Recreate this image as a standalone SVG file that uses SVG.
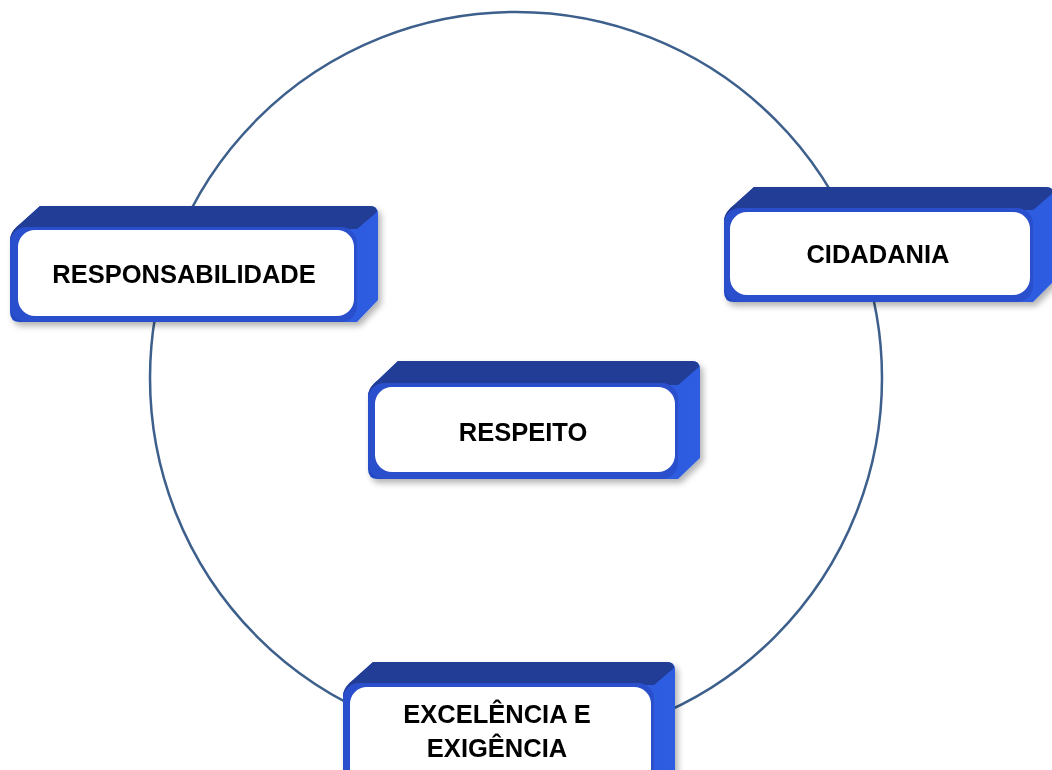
<svg xmlns="http://www.w3.org/2000/svg" width="1052" height="770" viewBox="0 0 1052 770">
<defs>
<linearGradient id="side" x1="0" y1="0" x2="1" y2="0">
<stop offset="0" stop-color="#2347C2"/><stop offset="1" stop-color="#2F5DE2"/>
</linearGradient>
<filter id="sh" x="-5%" y="-5%" width="115%" height="125%">
<feDropShadow dx="3" dy="4" stdDeviation="3" flood-color="#000" flood-opacity="0.3"/>
</filter>
<style>
.ring{fill:none;stroke:#3D5F8C;stroke-width:2.5}
.side{fill:url(#side)}
.top{fill:#223C96}
.front{fill:#2C4FCC}
.face{fill:#FFFFFF}
.lbl{font-family:"Liberation Sans",Arial,sans-serif;font-weight:bold;font-size:25.5px;fill:#000;text-anchor:middle}
</style>
</defs>
<rect width="1052" height="770" fill="#FFFFFF"/>
<g id="connectors">
<circle class="ring" cx="516" cy="378" r="366"/>
</g>
<g id="responsabilidade" filter="url(#sh)">
<path class="side" d="M10,238 Q12,230 20,224 L40,206 L370,206 Q378,206 378,214 L378,300 L357,322 L20,322 Q10,322 10,312 Z"/>
<path class="top" d="M10,238 Q12,230 20,224 L40,206 L370,206 Q377,206 377,212 L357,229 L22,229 Z"/>
<rect class="front" x="10" y="227" width="347" height="95" rx="16"/>
<rect class="face" x="18" y="230" width="336" height="86" rx="17"/>
<text class="lbl" x="184" y="283">RESPONSABILIDADE</text>
</g>
<g id="cidadania" filter="url(#sh)">
<path class="side" d="M724,219 Q726,211 734,205 L754,187 L1046,187 Q1054,187 1054,195 L1054,281 L1033,302 L734,302 Q724,302 724,292 Z"/>
<path class="top" d="M724,219 Q726,211 734,205 L754,187 L1046,187 Q1053,187 1053,193 L1033,210 L736,210 Z"/>
<rect class="front" x="724" y="208" width="309" height="94" rx="16"/>
<rect class="face" x="730" y="212" width="300" height="83" rx="17"/>
<text class="lbl" x="878" y="263">CIDADANIA</text>
</g>
<g id="respeito" filter="url(#sh)">
<path class="side" d="M368,394 Q370,386 378,380 L398,361 L692,361 Q700,361 700,369 L700,458 L678,479 L378,479 Q368,479 368,469 Z"/>
<path class="top" d="M368,394 Q370,386 378,380 L398,361 L692,361 Q699,361 699,367 L678,385 L380,385 Z"/>
<rect class="front" x="368" y="383" width="310" height="96" rx="16"/>
<rect class="face" x="375" y="387" width="300" height="85" rx="17"/>
<text class="lbl" x="523" y="441">RESPEITO</text>
</g>
<g id="excelencia" filter="url(#sh)">
<path class="side" d="M343,694 Q345,686 353,680 L373,662 L667,662 Q675,662 675,670 L675,775 L654,790 L353,790 Q343,790 343,780 Z"/>
<path class="top" d="M343,694 Q345,686 353,680 L373,662 L667,662 Q674,662 674,668 L654,685 L355,685 Z"/>
<rect class="front" x="343" y="683" width="311" height="107" rx="16"/>
<rect class="face" x="350" y="687" width="301" height="100" rx="17"/>
<text class="lbl" x="497" y="723">EXCELÊNCIA E</text>
<text class="lbl" x="497" y="757">EXIGÊNCIA</text>
</g>
</svg>
